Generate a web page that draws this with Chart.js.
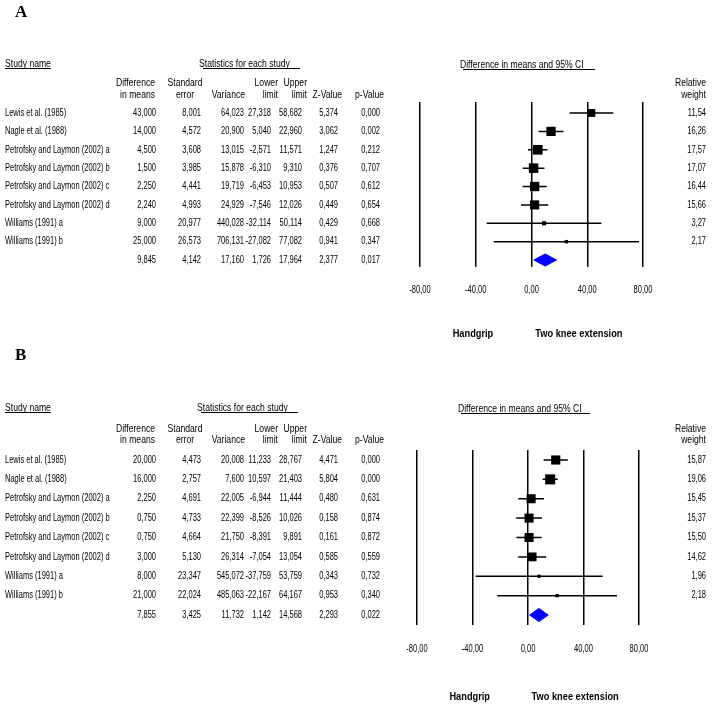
<!DOCTYPE html>
<html>
<head>
<meta charset="utf-8">
<script src="https://cdn.jsdelivr.net/npm/chart.js@4.4.0/dist/chart.umd.min.js"></script>
<style>
 body { margin: 0; background: #fff; }
 canvas { position: absolute; left: 0; }
</style>
</head>
<body>
<canvas id="chartA" width="714" height="340" style="top:0"></canvas>
<canvas id="chartB" width="714" height="366" style="top:340px"></canvas>
<script>
const studies = ['Lewis et al. (1985)', 'Nagle et al. (1988)', 'Petrofsky and Laymon (2002) a',
 'Petrofsky and Laymon (2002) b', 'Petrofsky and Laymon (2002) c', 'Petrofsky and Laymon (2002) d',
 'Williams (1991) a', 'Williams (1991) b'];

// panel A
const diffA = [43.000, 14.000, 4.500, 1.500, 2.250, 2.240, 9.000, 25.000];
const seA = [8.001, 4.572, 3.608, 3.985, 4.441, 4.993, 20.977, 26.573];
const varA = [64.023, 20.900, 13.015, 15.878, 19.719, 24.929, 440.028, 706.131];
const lowerA = [27.318, 5.040, -2.571, -6.310, -6.453, -7.546, -32.114, -27.082];
const upperA = [58.682, 22.960, 11.571, 9.310, 10.953, 12.026, 50.114, 77.082];
const zA = [5.374, 3.062, 1.247, 0.376, 0.507, 0.449, 0.429, 0.941];
const pA = [0.000, 0.002, 0.212, 0.707, 0.612, 0.654, 0.668, 0.347];
const weightA = [11.54, 16.26, 17.57, 17.07, 16.44, 15.66, 3.27, 2.17];
// diff, se, variance, lower, upper, z, p
const totalA = [9.845, 4.142, 17.160, 1.726, 17.964, 2.377, 0.017];

// panel B
const diffB = [20.000, 16.000, 2.250, 0.750, 0.750, 3.000, 8.000, 21.000];
const seB = [4.473, 2.757, 4.691, 4.733, 4.664, 5.130, 23.347, 22.024];
const varB = [20.008, 7.600, 22.005, 22.399, 21.750, 26.314, 545.072, 485.063];
const lowerB = [11.233, 10.597, -6.944, -8.526, -8.391, -7.054, -37.759, -22.167];
const upperB = [28.767, 21.403, 11.444, 10.026, 9.891, 13.054, 53.759, 64.167];
const zB = [4.471, 5.804, 0.480, 0.158, 0.161, 0.585, 0.343, 0.953];
const pB = [0.000, 0.000, 0.631, 0.874, 0.872, 0.559, 0.732, 0.340];
const weightB = [15.87, 19.06, 15.45, 15.37, 15.50, 14.62, 1.96, 2.18];
const totalB = [7.855, 3.425, 11.732, 1.142, 14.568, 2.293, 0.022];

const xMin = -80, xMax = 80, xStep = 40;
const sideLabels = ['Handgrip', 'Two knee extension'];

const fam = '"Liberation Sans", Arial, sans-serif';
const sx = 0.75; // the original uses a narrow face, squeeze the text
const hx = 0.86; // headers are a bit wider
const fmt = (v, d) => v.toFixed(d).replace('.', ',');
const valX = [156, 201, 244, 271, 302, 338, 380];

function txt(ctx, t, x, y, squeeze) {
 ctx.save();
 ctx.translate(x, y);
 ctx.scale(squeeze || sx, 1);
 ctx.fillText(t, 0, 0);
 ctx.restore();
}

function tablePlugin(p, cols, weight, total) {
 return {
  id: 'table',
  afterDraw(chart) {
   const ctx = chart.ctx;
   const ys = chart.scales.y;
   const xs = chart.scales.x;
   ctx.save();
   ctx.fillStyle = '#000';

   ctx.font = 'bold 17px "Liberation Serif", "Times New Roman", serif';
   ctx.textAlign = 'left';
   ctx.textBaseline = 'alphabetic';
   ctx.fillText(p.letter, 15, p.letterY);

   ctx.font = '10px ' + fam;
   ctx.textBaseline = 'middle';
   txt(ctx, 'Study name', 5, p.titleY, hx);
   ctx.fillRect(5, p.titleY + 4, ctx.measureText('Study name').width * hx, 1);
   txt(ctx, 'Statistics for each study', p.statsX, p.titleY, hx);
   ctx.fillRect(p.statsX + 4, p.titleY + 4, 97, 1);
   txt(ctx, 'Difference in means and 95% CI', p.ciX, p.titleY + 1, hx);
   ctx.fillRect(p.ciX + 3, p.titleY + 5, p.ciW, 1);

   // column headers
   const h1 = p.head1Y, h2 = p.head2Y;
   ctx.textAlign = 'right';
   txt(ctx, 'Difference', 155, h1, hx);
   txt(ctx, 'in means', 155, h2, hx);
   txt(ctx, 'Variance', 245, h2, hx);
   txt(ctx, 'Lower', 278, h1, hx);
   txt(ctx, 'limit', 278, h2, hx);
   txt(ctx, 'Upper', 307, h1, hx);
   txt(ctx, 'limit', 307, h2, hx);
   txt(ctx, 'Z-Value', 342, h2, hx);
   txt(ctx, 'p-Value', 384, h2, hx);
   txt(ctx, 'Relative', 706, h1, hx);
   txt(ctx, 'weight', 706, h2, hx);
   ctx.textAlign = 'center';
   txt(ctx, 'Standard', 185, h1, hx);
   txt(ctx, 'error', 185, h2, hx);

   // rows
   studies.forEach((s, i) => {
    const y = ys.getPixelForValue(i);
    ctx.textAlign = 'left';
    txt(ctx, s, 5, y);
    ctx.textAlign = 'right';
    cols.forEach((c, j) => txt(ctx, fmt(c[i], 3), valX[j], y));
    txt(ctx, fmt(weight[i], 2), 706, y);
   });
   const yt = ys.getPixelForValue(studies.length);
   total.forEach((v, j) => txt(ctx, fmt(v, 3), valX[j], yt));

   // axis tick labels
   ctx.textAlign = 'center';
   xs.ticks.forEach(t => txt(ctx, fmt(t.value, 2), xs.getPixelForValue(t.value), p.tickY));

   ctx.font = 'bold 11px ' + fam;
   txt(ctx, sideLabels[0], xs.getPixelForValue(-42), p.sideY, 0.84);
   txt(ctx, sideLabels[1], xs.getPixelForValue(34), p.sideY, 0.84);
   ctx.restore();
  }
 };
}

function makePanel(id, p, diff, se, vr, lower, upper, z, pv, weight, total) {
 const k = studies.length;
 const ci = [];
 lower.forEach((lo, i) => {
  ci.push({x: lo, y: i}, {x: upper[i], y: i}, {x: null, y: null});
 });
 const pts = diff.map((d, i) => ({x: d, y: i}));
 const dia = [
  {x: total[3], y: k}, {x: total[0], y: k - p.dh}, {x: total[4], y: k},
  {x: total[0], y: k + p.dh}, {x: total[3], y: k}
 ];
 new Chart(document.getElementById(id), {
  type: 'scatter',
  data: {
   datasets: [
    {
     type: 'line',
     data: ci,
     borderColor: '#000',
     borderWidth: 1.5,
     pointRadius: 0,
     spanGaps: false,
     fill: false,
     clip: false
    },
    {
     data: pts,
     pointStyle: 'rect',
     pointRadius: weight.map(w => 2.3 * Math.sqrt(w) / Math.SQRT2),
     backgroundColor: '#000',
     borderColor: '#000',
     borderWidth: 0,
     clip: false
    },
    {
     type: 'line',
     data: dia,
     borderColor: '#0000ff',
     backgroundColor: '#0000ff',
     borderWidth: 1,
     pointRadius: 0,
     fill: 'shape',
     clip: false
    }
   ]
  },
  options: {
   responsive: false,
   animation: false,
   events: [],
   layout: { padding: { left: p.left, right: 714 - p.right, top: p.top, bottom: 0 } },
   plugins: { legend: { display: false }, tooltip: { enabled: false } },
   scales: {
    x: {
     min: xMin,
     max: xMax,
     grid: { color: '#000', lineWidth: 1.5, drawTicks: false },
     border: { display: false },
     ticks: { stepSize: xStep, display: false },
     afterFit: s => { s.height = p.h - p.bottom; }
    },
    y: { display: false, min: p.ymin, max: p.ymax, reverse: true }
   }
  },
  plugins: [tablePlugin(p, [diff, se, vr, lower, upper, z, pv], weight, total)]
 });
}

makePanel('chartA', {
 letter: 'A', letterY: 17, titleY: 64, statsX: 199, ciX: 460, ciW: 132,
 head1Y: 83, head2Y: 95, sideY: 334, tickY: 290,
 left: 420, right: 643, top: 102, bottom: 267, h: 340,
 ymin: -0.6, ymax: 8.38, dh: 0.33
}, diffA, seA, varA, lowerA, upperA, zA, pA, weightA, totalA);

makePanel('chartB', {
 letter: 'B', letterY: 20, titleY: 68, statsX: 197, ciX: 458, ciW: 129,
 head1Y: 89, head2Y: 100, sideY: 357, tickY: 309,
 left: 417, right: 639, top: 110, bottom: 285, h: 366,
 ymin: -0.515, ymax: 8.515, dh: 0.34
}, diffB, seB, varB, lowerB, upperB, zB, pB, weightB, totalB);
</script>
</body>
</html>
